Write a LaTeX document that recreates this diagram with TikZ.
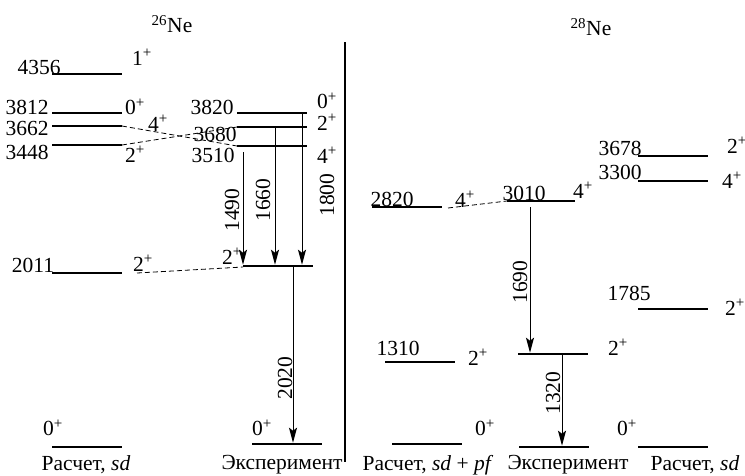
\documentclass[tikz,border=0pt]{standalone}
\usepackage{fontspec}
\setmainfont{Liberation Serif}
\usetikzlibrary{arrows.meta}
\newcommand\drawlevel[4]{%
  \coordinate (#1-l) at (#2,#4);
  \coordinate (#1-r) at (#3,#4);
  \draw[level] (#1-l) -- (#1-r);}
\newcommand\spin[1]{#1\textsuperscript{+}}
\begin{document}
\begin{tikzpicture}[x=1pt,y=-1pt,
  every node/.style={font=\fontsize{21.5}{25}\selectfont, inner sep=0pt},
  level/.style={line width=2.8pt},
  link/.style={line width=0.8pt, dash pattern=on 5pt off 3pt},
  tr/.style={-{Stealth[length=15pt,width=8pt,inset=3pt]}, line width=1pt, shorten >=1.3pt},
  sep/.style={line width=1.3pt}]
\useasboundingbox (0,0) rectangle (745,475);

% ---------- 26Ne ----------
\node (t26) at (172,24) {\textsuperscript{26}Ne};

% calc sd levels
\drawlevel{c4356}{52}{122}{74}
\drawlevel{c3812}{52}{122}{113}
\drawlevel{c3662}{52}{122}{126}
\drawlevel{c3448}{52}{122}{145}
\drawlevel{c2011}{52}{122}{273}
\drawlevel{c0}{52}{122}{447}

\node (n4356) at (39,67) {4356};
\node (j4356) at (142,57) {\spin{1}};
\node (n3812) at (27,107) {3812};
\node (n3662) at (27,128) {3662};
\node (n3448) at (27,152) {3448};
\node (j3812) at (135,107) {\spin{0}};
\node (j3662) at (158,123) {\spin{4}};
\node (j3448) at (135,154) {\spin{2}};
\node (n2011) at (33,265) {2011};
\node (j2011) at (143,263) {\spin{2}};
\node (jc0) at (53,428) {\spin{0}};
\node (lab1) at (86,465) {Расчет, \textit{sd}};

% experiment levels
\drawlevel{e3820}{237}{307}{113}
\drawlevel{e3680}{237}{307}{127}
\drawlevel{e3510}{237}{307}{146}
\drawlevel{e2}{243}{313}{266}
\drawlevel{e0}{252}{322}{444}

\node (n3820) at (212,107) {3820};
\node (n3680) at (215,134) {3680};
\node (n3510) at (213,155) {3510};
\node (j3820) at (327,101) {\spin{0}};
\node (j3680) at (327,122) {\spin{2}};
\node (j3510) at (327,155) {\spin{4}};
\node (je2) at (232,256) {\spin{2}};
\node (je0) at (262,428) {\spin{0}};
\node (lab2) at (282,465) {Эксперимент};

% dashed correspondences
\draw[link] (c3662-r) -- (e3510-l);
\draw[link] (c3448-r) -- (e3680-l);
\coordinate (d2011) at (137,273);
\coordinate (d2e) at (243,267);
\draw[link] (d2011) -- (d2e);

% transitions
\coordinate (a1490s) at (243,152);
\coordinate (a1490e) at (243,266);
\coordinate (a1660s) at (275,127);
\coordinate (a1660e) at (275,266);
\coordinate (a1800s) at (302,113);
\coordinate (a1800e) at (302,266);
\coordinate (a2020s) at (293,266);
\coordinate (a2020e) at (293,444);
\draw[tr] (a1490s) -- (a1490e);
\draw[tr] (a1660s) -- (a1660e);
\draw[tr] (a1800s) -- (a1800e);
\draw[tr] (a2020s) -- (a2020e);
\node[rotate=90] (g1490) at (232,210) {1490};
\node[rotate=90] (g1660) at (263,200) {1660};
\node[rotate=90] (g1800) at (327,195) {1800};
\node[rotate=90] (g2020) at (285,378) {2020};

% separator
\coordinate (sepT) at (345,42);
\coordinate (sepB) at (345,462);
\draw[sep] (sepT) -- (sepB);

% ---------- 28Ne ----------
\node (t28) at (591,27) {\textsuperscript{28}Ne};

% calc sd+pf
\drawlevel{p2820}{372}{442}{207}
\drawlevel{p1310}{385}{455}{362}
\drawlevel{p0}{392}{462}{444}
\node (n2820) at (392,199) {2820};
\node (j2820) at (465,199) {\spin{4}};
\node (n1310) at (398,348) {1310};
\node (j1310) at (478,357) {\spin{2}};
\node (jp0) at (485,428) {\spin{0}};
\node (lab3) at (428,465) {Расчет, \textit{sd} + \textit{pf}};

% experiment
\drawlevel{x3010}{507}{575}{201}
\drawlevel{x2}{518}{588}{354}
\drawlevel{x0}{519}{589}{447}
\node (n3010) at (524,193) {3010};
\node (j3010) at (583,190) {\spin{4}};
\node (jx2) at (618,347) {\spin{2}};
\node (lab4) at (568,465) {Эксперимент};

\coordinate (d2820) at (448,208);
\coordinate (d3010) at (507,201);
\draw[link] (d2820) -- (d3010);

\coordinate (a1690s) at (530,207);
\coordinate (a1690e) at (530,354);
\coordinate (a1320s) at (562,354);
\coordinate (a1320e) at (562,447);
\draw[tr] (a1690s) -- (a1690e);
\draw[tr] (a1320s) -- (a1320e);
\node[rotate=90] (g1690) at (520,282) {1690};
\node[rotate=90] (g1320) at (553,393) {1320};

% calc sd
\drawlevel{s3678}{638}{708}{156}
\drawlevel{s3300}{638}{708}{181}
\drawlevel{s1785}{638}{708}{309}
\drawlevel{s0}{638}{708}{447}
\node (n3678) at (620,148) {3678};
\node (j3678) at (737,145) {\spin{2}};
\node (n3300) at (620,172) {3300};
\node (j3300) at (732,180) {\spin{4}};
\node (n1785) at (629,293) {1785};
\node (j1785) at (735,307) {\spin{2}};
\node (js0) at (627,428) {\spin{0}};
\node (lab5) at (695,465) {Расчет, \textit{sd}};
\end{tikzpicture}
\end{document}
